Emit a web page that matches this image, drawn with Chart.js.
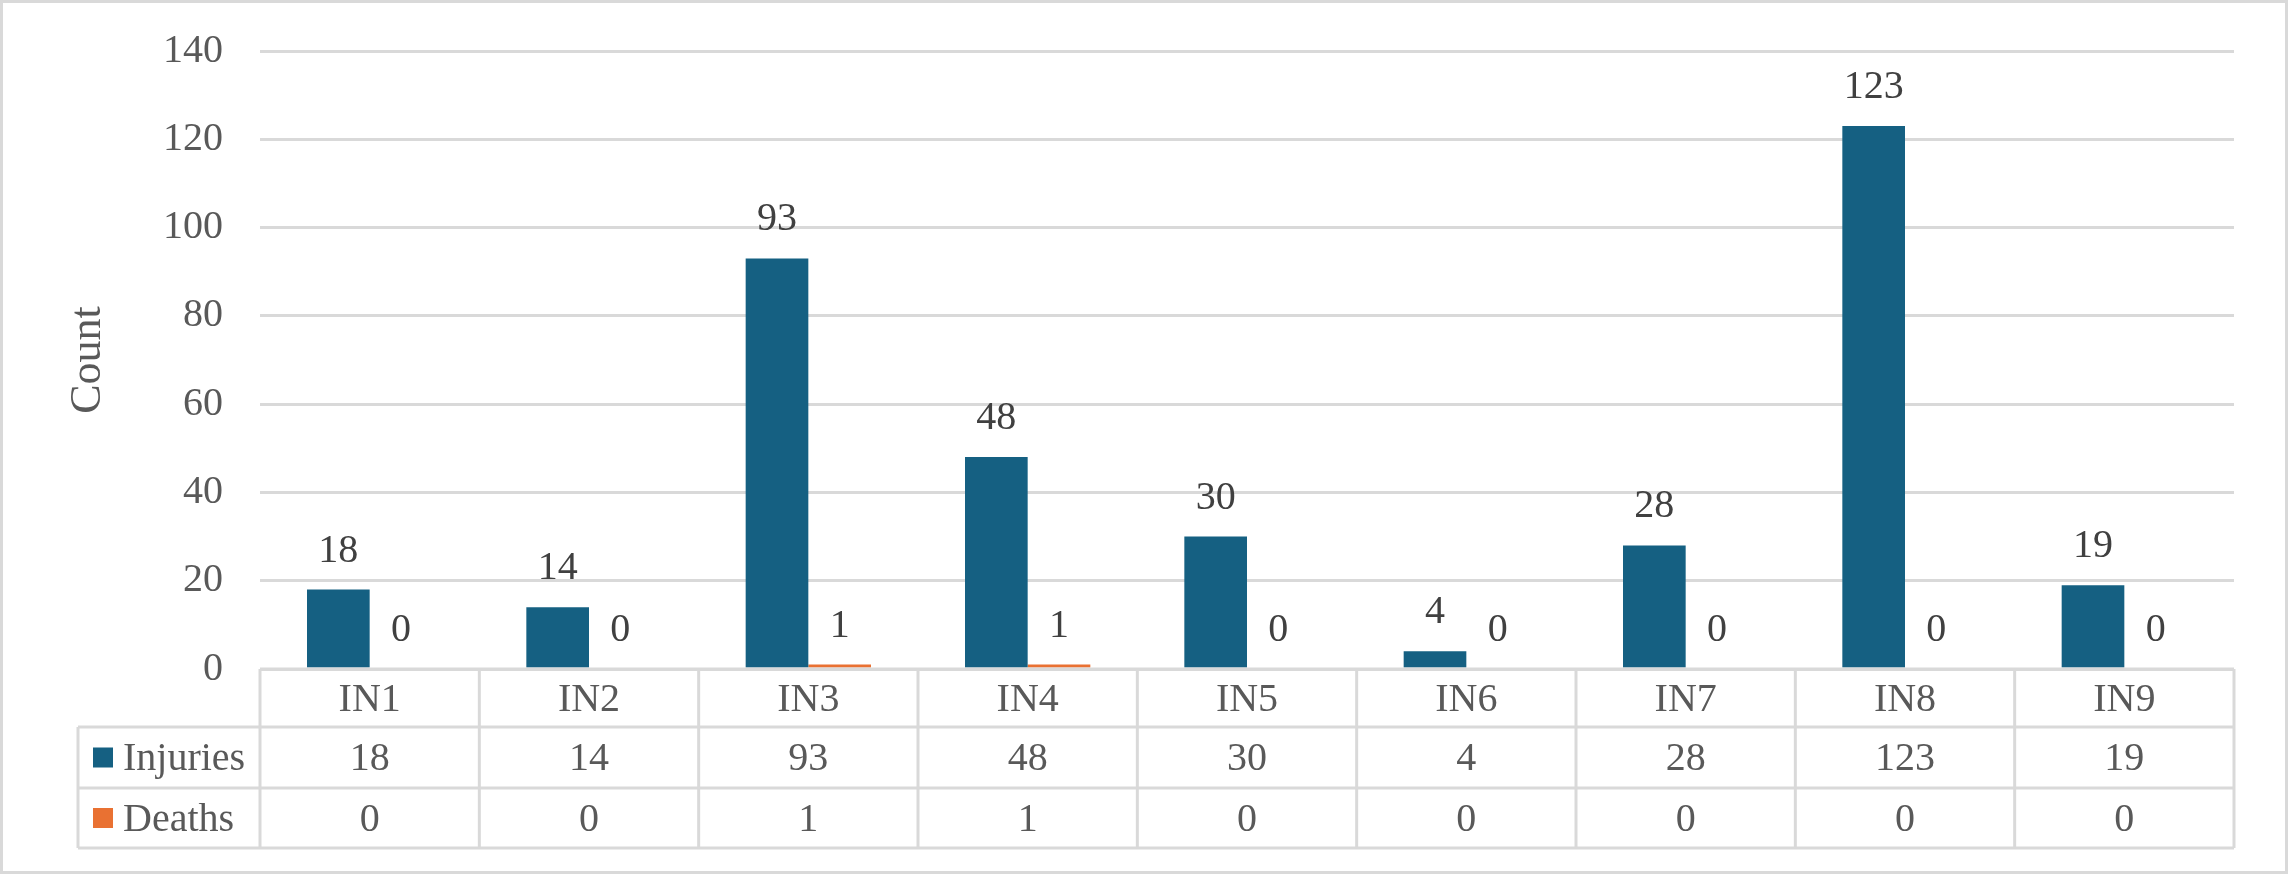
<!DOCTYPE html>
<html>

<head>
    <title>Injuries and Deaths</title>
    <script src="https://cdn.jsdelivr.net/npm/chart.js"></script>
    <style>
        body { margin: 0; background: #ffffff; }
        #wrap { width: 2288px; height: 874px; }
    </style>
</head>

<body>
    <div id="wrap"><canvas id="chart" width="2288" height="874"></canvas></div>

    <script>
        // Chart data
        const categories = ['IN1', 'IN2', 'IN3', 'IN4', 'IN5', 'IN6', 'IN7', 'IN8', 'IN9'];
        const injuries = [18, 14, 93, 48, 30, 4, 28, 123, 19];
        const deaths = [0, 0, 1, 1, 0, 0, 0, 0, 0];
        const yTicks = [0, 20, 40, 60, 80, 100, 120, 140];

        const serif = "'Liberation Serif', 'Times New Roman', serif";
        const gridColor = '#d9d9d9';

        // White background and light outer frame
        const framePlugin = {
            id: 'frame',
            beforeDraw(chart) {
                const ctx = chart.ctx;
                ctx.save();
                ctx.fillStyle = '#ffffff';
                ctx.fillRect(0, 0, chart.width, chart.height);
                ctx.strokeStyle = gridColor;
                ctx.lineWidth = 3;
                ctx.strokeRect(1.5, 1.5, chart.width - 3, chart.height - 3);
                ctx.restore();
            }
        };

        // Value labels above each bar
        const valueLabels = {
            id: 'valueLabels',
            afterDatasetsDraw(chart) {
                const ctx = chart.ctx;
                ctx.save();
                ctx.font = '40px ' + serif;
                ctx.fillStyle = '#404040';
                ctx.textAlign = 'center';
                ctx.textBaseline = 'alphabetic';
                chart.data.datasets.forEach((ds, i) => {
                    chart.getDatasetMeta(i).data.forEach((bar, j) => {
                        ctx.fillText(String(ds.data[j]), bar.x, bar.y - 28);
                    });
                });
                ctx.restore();
            }
        };

        // Excel-style data table under the plot
        const dataTable = {
            id: 'dataTable',
            afterDraw(chart) {
                const ctx = chart.ctx;
                const x = chart.scales.x;
                const area = chart.chartArea;
                const n = categories.length;
                const cw = (area.right - area.left) / n;
                const top = area.bottom;
                const rows = [top, top + 58, top + 119, top + 179];
                const legendLeft = 78;

                ctx.save();
                ctx.strokeStyle = gridColor;
                ctx.lineWidth = 3;
                ctx.beginPath();
                // horizontal lines
                ctx.moveTo(area.left, rows[0]);
                ctx.lineTo(area.right, rows[0]);
                for (let r = 1; r < rows.length; r++) {
                    ctx.moveTo(legendLeft, rows[r]);
                    ctx.lineTo(area.right, rows[r]);
                }
                // vertical lines
                ctx.moveTo(legendLeft, rows[1]);
                ctx.lineTo(legendLeft, rows[3]);
                for (let i = 0; i <= n; i++) {
                    const vx = area.left + i * cw;
                    ctx.moveTo(vx, rows[0]);
                    ctx.lineTo(vx, rows[3]);
                }
                ctx.stroke();

                ctx.font = '40px ' + serif;
                ctx.fillStyle = '#595959';
                ctx.textAlign = 'center';
                ctx.textBaseline = 'middle';
                const series = [injuries, deaths];
                categories.forEach((c, i) => {
                    const cx = x.getPixelForValue(i);
                    ctx.fillText(c, cx, (rows[0] + rows[1]) / 2 + 2);
                    series.forEach((s, k) => {
                        ctx.fillText(String(s[i]), cx, (rows[k + 1] + rows[k + 2]) / 2 + 2);
                    });
                });

                // legend keys
                ctx.textAlign = 'left';
                chart.data.datasets.forEach((ds, k) => {
                    const cy = (rows[k + 1] + rows[k + 2]) / 2;
                    ctx.fillStyle = ds.backgroundColor;
                    ctx.fillRect(93, cy - 10, 20, 20);
                    ctx.fillStyle = '#595959';
                    ctx.fillText(ds.label, 123, cy + 2);
                });
                ctx.restore();
            }
        };

        const ctx = document.getElementById('chart').getContext('2d');
        const chart = new Chart(ctx, {
            type: 'bar',
            data: {
                labels: categories,
                datasets: [{
                    label: 'Injuries',
                    data: injuries,
                    backgroundColor: '#156082'
                }, {
                    label: 'Deaths',
                    data: deaths,
                    backgroundColor: '#e97132'
                }]
            },
            options: {
                responsive: false,
                animation: false,
                layout: {
                    padding: { top: 51, right: 54, bottom: 205, left: 0 }
                },
                datasets: {
                    bar: {
                        categoryPercentage: 2 / 3.5,
                        barPercentage: 1
                    }
                },
                plugins: {
                    legend: { display: false },
                    tooltip: { enabled: false }
                },
                scales: {
                    x: {
                        display: false
                    },
                    y: {
                        min: yTicks[0],
                        max: yTicks[yTicks.length - 1],
                        afterFit(scale) {
                            scale.width = 260;
                            // keep the label padding from pushing the plot down
                            scale.paddingTop = 0;
                            scale.paddingBottom = 0;
                        },
                        afterBuildTicks(scale) {
                            scale.ticks = yTicks.map(v => ({ value: v }));
                        },
                        border: { display: false },
                        grid: {
                            color: gridColor,
                            lineWidth: 3,
                            drawTicks: false
                        },
                        ticks: {
                            padding: 37,
                            color: '#595959',
                            font: { family: serif, size: 40 }
                        },
                        title: {
                            display: true,
                            text: 'Count',
                            color: '#595959',
                            font: { family: serif, size: 44 },
                            padding: { top: 62, bottom: 0 }
                        }
                    }
                }
            },
            plugins: [framePlugin, valueLabels, dataTable]
        });
    </script>
</body>

</html>
